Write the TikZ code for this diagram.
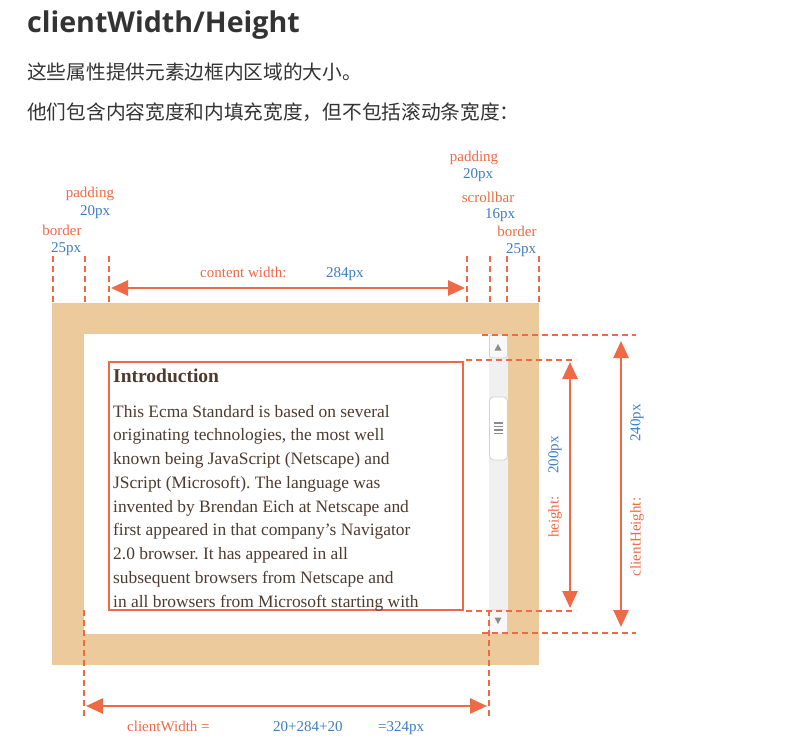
\documentclass[tikz,border=0pt]{standalone}
\usepackage{fontspec}
\setmainfont{Liberation Serif}
\newfontfamily\titlefont{Open Sans}
\newfontfamily\cjk{Noto Sans CJK SC}
\usetikzlibrary{arrows.meta}
\frenchspacing
\definecolor{rd}{HTML}{EE6A46}
\definecolor{bl}{HTML}{3D7EC2}
\definecolor{tanc}{HTML}{ECCA9C}
\definecolor{txt}{HTML}{4E3B30}
\definecolor{ttl}{HTML}{333333}
\definecolor{sbtrack}{HTML}{F0F0F0}
\definecolor{sbbtn}{HTML}{F8F8F8}
\definecolor{sbedge}{HTML}{D2D2D2}
\definecolor{sbmark}{HTML}{8C8C8C}
\begin{document}
\begin{tikzpicture}[x=1pt,y=-1pt,
  dimline/.style={draw=rd, line width=2.2pt, dash pattern=on 6pt off 4pt},
  dimarrow/.style={draw=rd, line width=2.6pt,
    {Triangle[length=17pt,width=15pt]}-{Triangle[length=17pt,width=15pt]}},
  lred/.style={text=rd, font=\fontsize{15}{15}\selectfont, inner sep=0pt},
  lblue/.style={text=bl, font=\fontsize{15}{15}\selectfont, inner sep=0pt},
  sbbutton/.style={draw=sbedge, fill=sbbtn, line width=0.8pt, rounded corners=2.5pt},
]
\useasboundingbox[fill=white] (0,0) rectangle (796,752);

% heading and intro text
\node[anchor=base west, inner sep=0pt, text=ttl,
      font=\titlefont\bfseries\fontsize{28.6}{28.6}\selectfont] (title) at (27,33) {clientWidth/Height};
\node[anchor=west, inner sep=0pt, text=ttl, font=\cjk\fontsize{19.7}{19.7}\selectfont]
  (intro1) at (27,72) {这些属性提供元素边框内区域的大小。};
\node[anchor=west, inner sep=0pt, text=ttl, font=\cjk\fontsize{19.7}{19.7}\selectfont]
  (intro2) at (27,112) {他们包含内容宽度和内填充宽度，但不包括滚动条宽度：};

% element box: border, padding area, scrollbar
\fill[tanc] (52,303) rectangle (539,665);
\fill[white] (84,334) rectangle (508,634);
\fill[sbtrack] (489,334) rectangle (508,634);
\draw[sbbutton] (489.5,335) rectangle (507.5,358);
\fill[sbmark] (494.5,350.5) -- (501.5,350.5) -- (498,344) -- cycle;
\draw[sbbutton] (489.5,610) rectangle (507.5,633);
\fill[sbmark] (494.5,617.5) -- (501.5,617.5) -- (498,624) -- cycle;
\draw[sbbutton, fill=white, rounded corners=4pt] (489.5,397) rectangle (507.5,460);
\foreach \gy in {423,426.5,430,433.5}
  \draw[sbmark, line width=1.8pt] (494,\gy) -- (503,\gy);

% content box
\draw[rd, line width=2pt] (109,362) rectangle (463,610);
\node[anchor=base west, inner sep=0pt, text=txt, font=\bfseries\fontsize{19.5}{19.5}\selectfont]
  (heading) at (113,382) {Introduction};
\node[anchor=base west, inner sep=0pt, text=txt, align=left, font=\fontsize{17.4}{23.75}\selectfont]
  (body) at (113,607) {This Ecma Standard is based on several\\
originating technologies, the most well\\
known being JavaScript (Netscape) and\\
JScript (Microsoft). The language was\\
invented by Brendan Eich at Netscape and\\
first appeared in that company’s Navigator\\
2.0 browser. It has appeared in all\\
subsequent browsers from Netscape and\\
in all browsers from Microsoft starting with};

% coordinates for dimension lines
\coordinate (tA1) at (53,256);  \coordinate (tA2) at (53,304);
\coordinate (tB1) at (85,256);  \coordinate (tB2) at (85,304);
\coordinate (tC1) at (109,256); \coordinate (tC2) at (109,304);
\coordinate (tD1) at (467,256); \coordinate (tD2) at (467,304);
\coordinate (tE1) at (490,256); \coordinate (tE2) at (490,304);
\coordinate (tF1) at (507,256); \coordinate (tF2) at (507,304);
\coordinate (tG1) at (539,256); \coordinate (tG2) at (539,304);
\coordinate (rA1) at (482,335); \coordinate (rA2) at (636,335);
\coordinate (rB1) at (466,360); \coordinate (rB2) at (576,360);
\coordinate (rC1) at (466,611); \coordinate (rC2) at (576,611);
\coordinate (rD1) at (482,633); \coordinate (rD2) at (636,633);
\coordinate (bA1) at (84,610);  \coordinate (bA2) at (84,717);
\coordinate (bB1) at (489,610); \coordinate (bB2) at (489,717);

\foreach \p in {tA,tB,tC,tD,tE,tF,tG,rA,rB,rC,rD,bA,bB}
  \draw[dimline] (\p1) -- (\p2);

% arrows
\coordinate (cwL) at (111,288); \coordinate (cwR) at (465,288);
\coordinate (hT) at (570,362);  \coordinate (hB) at (570,608);
\coordinate (chT) at (621,341); \coordinate (chB) at (621,627);
\coordinate (clL) at (86,706);  \coordinate (clR) at (487,706);
\draw[dimarrow] (cwL) -- (cwR);
\draw[dimarrow] (hT) -- (hB);
\draw[dimarrow] (chT) -- (chB);
\draw[dimarrow] (clL) -- (clR);

% top labels
\node[lred, anchor=base] (padL)  at (90,197)  {padding};
\node[lblue, anchor=base] (padLv) at (95,215) {20px};
\node[lred, anchor=base] (borL)  at (62,235)  {border};
\node[lblue, anchor=base] (borLv) at (66,252) {25px};
\node[lred, anchor=base] (padR)  at (474,161) {padding};
\node[lblue, anchor=base] (padRv) at (478,178) {20px};
\node[lred, anchor=base] (scr)   at (488,202) {scrollbar};
\node[lblue, anchor=base] (scrv) at (500,218) {16px};
\node[lred, anchor=base] (borR)  at (517,236) {border};
\node[lblue, anchor=base] (borRv) at (521,253) {25px};
\node[lred, anchor=base west] (cwlab) at (200,277) {content width:};
\node[lblue, anchor=base west] (cwval) at (326,277) {284px};

% side labels
\node[lred, rotate=90] (hlab) at (555,517) {height:};
\node[lblue, rotate=90] (hval) at (555,455) {200px};
\node[lred, rotate=90] (chlab) at (637,537) {clientHeight:};
\node[lblue, rotate=90] (chval) at (637,423) {240px};

% bottom labels
\node[lred, anchor=base west] (clwlab) at (127,731) {clientWidth =};
\node[lblue, anchor=base west] (clwsum) at (273,731) {20+284+20};
\node[lblue, anchor=base west] (clwval) at (378,731) {=324px};
\end{tikzpicture}
\end{document}
